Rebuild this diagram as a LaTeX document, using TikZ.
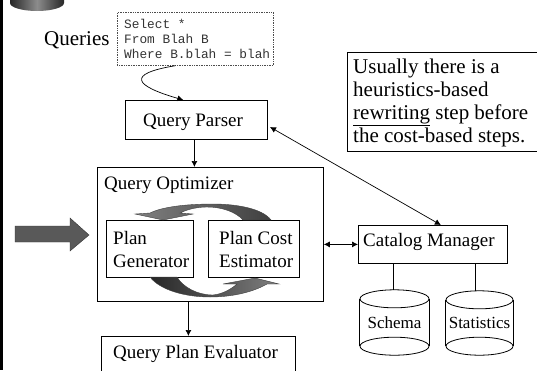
\documentclass[tikz,border=0pt]{standalone}
\usepackage{fontspec}
\setmainfont{Liberation Serif}
\setmonofont{Liberation Mono}
\usetikzlibrary{arrows.meta}

\newcommand{\drawdisk}[1]{
  \draw[line width=0.8pt] ([yshift=-9pt]#1.north) ellipse [x radius=0.5*\pgfkeysvalueof{/tikz/disk width}, y radius=9];
  \draw[line width=0.8pt] ([yshift=9pt]#1.south) ellipse [x radius=0.5*\pgfkeysvalueof{/tikz/disk width}, y radius=9];
  \draw[line width=0.8pt] ([yshift=-9pt]#1.north west) -- ([yshift=9pt]#1.south west);
  \draw[line width=0.8pt] ([yshift=-9pt]#1.north east) -- ([yshift=9pt]#1.south east);
}

\begin{document}
\begin{tikzpicture}[x=1pt, y=-1pt,
      disk width/.initial=69,
      box/.style={draw=black, line width=0.8pt, anchor=north west, inner sep=0pt, align=left},
      lbl/.style={anchor=west, inner sep=0pt, align=left, font=\fontsize{19}{23}\selectfont},
      flow/.style={-{Latex[length=6pt, width=6pt]}, line width=0.7pt},
      twoway/.style={{Latex[length=6pt, width=6pt]}-{Latex[length=6pt, width=6pt]}, line width=0.7pt},
      store/.style={inner sep=0pt, font=\fontsize{17}{18}\selectfont},
      swirl/.style={draw=black!75, line width=0.4pt}
    ]
      \clip (0,0) rectangle (537,370);

      % Left edge bar and the cut-off disk at the top
      \fill[black] (0,0) rectangle (3,370);
      \path[left color=black!85, right color=black!85, middle color=black!45]
        (10,-5) -- (10,3) arc[start angle=180, end angle=360, x radius=27, y radius=-8] -- (64,-5) -- cycle;

      % Query text
      \node[lbl, font=\fontsize{21}{24}\selectfont] (queries) at (44,40) {Queries};
      \node[draw=black!70, densely dotted, line width=0.7pt, anchor=north west, minimum width=156pt, minimum height=53pt] (sql) at (117,12) {};
      \node[anchor=north west, inner sep=0pt, align=left, text=black!80, font=\fontsize{12.8}{15}\ttfamily] (sqltext) at (124,19) {Select *\\From Blah B\\Where B.blah = blah};

      % Main boxes
      \node[box, minimum width=142pt, minimum height=39pt] (parser) at (125,100) {};
      \node[lbl] (parserlbl) at (143,122) {Query Parser};
      \node[box, minimum width=226pt, minimum height=134pt] (optimizer) at (97,167) {};
      \node[lbl] (optlbl) at (104,185) {Query Optimizer};
      \node[box, minimum width=87pt, minimum height=57pt] (generator) at (106,220) {};
      \node[lbl] (genlbl) at (113,249) {Plan\\Generator};
      \node[box, minimum width=91pt, minimum height=57pt] (estimator) at (208,220) {};
      \node[lbl] (estlbl) at (219,249) {Plan Cost\\Estimator};
      \node[box, minimum width=194pt, minimum height=50pt] (evaluator) at (101,336) {};
      \node[lbl] (evallbl) at (113,354) {Query Plan Evaluator};
      \node[box, minimum width=149pt, minimum height=38pt] (catalog) at (358,225) {};
      \node[lbl] (catlbl) at (363,242) {Catalog Manager};

      % Note box, top right
      \node[box, minimum width=195pt, minimum height=99pt] (note) at (347,52) {};
      \node[lbl, font=\fontsize{21}{23}\selectfont] (notelbl) at (353,103) {Usually there is a\\heuristics-based\\\underline{rewriting} step before\\the cost-based steps.};

      % Disks
      \node[store, minimum width=69pt, minimum height=65pt] (schema) at (394.5,322.5) {Schema};
      \node[store, minimum width=67pt, minimum height=64pt] (statistics) at (479.5,323) {Statistics};
      \drawdisk{schema}
      \begin{scope}[disk width=67]
        \drawdisk{statistics}
      \end{scope}

      % Connectors
      \draw[flow] ([xshift=-20pt]sql.south) .. controls (125,74) and (135,86) .. ([xshift=-13pt]parser.north);
      \draw[flow] ([xshift=-2pt]parser.south) -- ([xshift=-16pt]optimizer.north);
      \draw[flow] ([xshift=-22pt]optimizer.south) -- ([xshift=-10pt]evaluator.north);
      \draw[twoway] (270,127) -- ([xshift=8pt]catalog.north);
      \draw[twoway] (optimizer.east |- catalog.west) -- (catalog.west);
      \draw[line width=0.8pt] ([xshift=-1.5pt]schema.north |- catalog.south) -- ([xshift=-1.5pt]schema.north);
      \draw[line width=0.8pt] ([xshift=-4.5pt]statistics.north |- catalog.south) -- ([xshift=-4.5pt]statistics.north);

      % Big arrow pointing at the plan generator
      \draw[black!80, fill=black!65, line width=0.4pt] (15,226) -- (70,226) -- (70,218) -- (89,235) -- (70,251) -- (70,242) -- (15,242) -- cycle;

      % Loop arrows between the two inner boxes
      \path[swirl, left color=black!50, right color=black!75] (271,220) .. controls (262,208) and (235,204) .. (213,204)
        .. controls (185,204) and (162,207) .. (150,213) -- (135,214) -- (163,220) -- (193,214) -- (180,213)
        .. controls (188,209) and (198,207) .. (207,207) .. controls (222,207) and (236,212) .. (243,220) -- cycle;
      \path[swirl, left color=black!85, right color=black!50] (150,277) .. controls (160,290) and (185,297) .. (210,297)
        .. controls (235,297) and (255,291) .. (267,284) -- (279,284) -- (255,278) -- (223,284) -- (237,284)
        .. controls (230,290) and (222,294) .. (213,295) .. controls (197,295) and (183,287) .. (177,277) -- cycle;
    \end{tikzpicture}
\end{document}
